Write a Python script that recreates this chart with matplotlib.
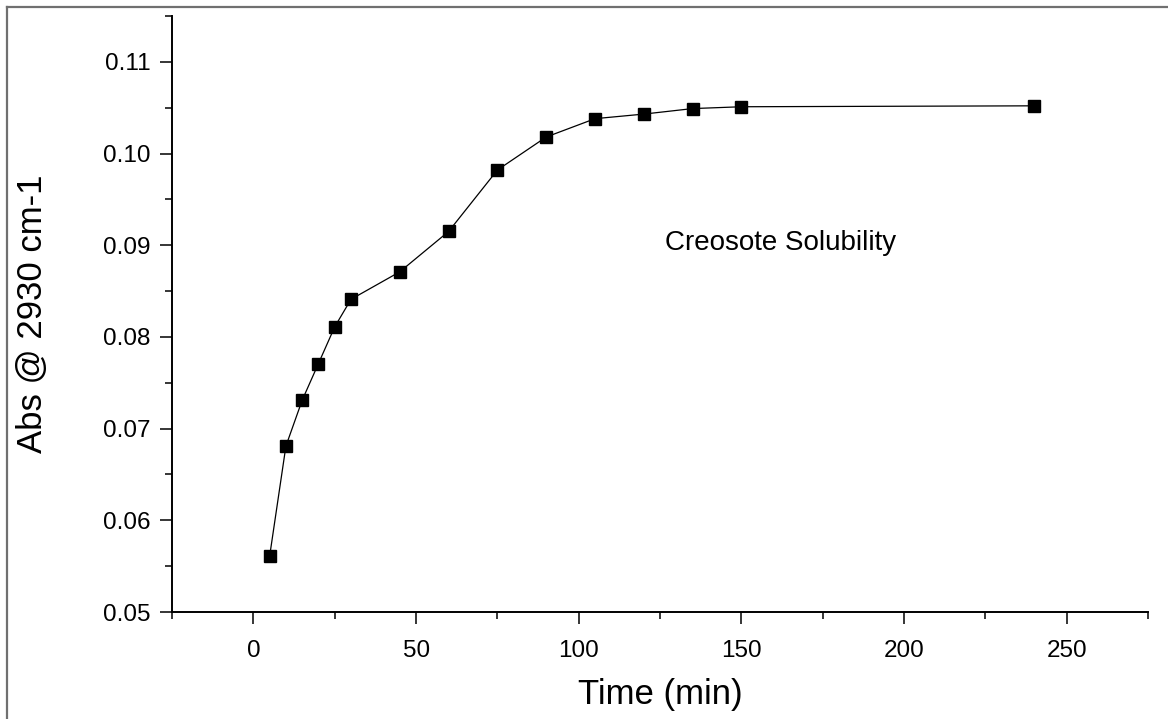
import matplotlib
matplotlib.use("Agg")
import matplotlib.pyplot as plt
from matplotlib.ticker import MultipleLocator, FormatStrFormatter
from matplotlib.lines import Line2D

plt.rcParams['font.family'] = ['Liberation Sans', 'DejaVu Sans']

# === DATOS ===
time_min = [5, 10, 15, 20, 25, 30, 45, 60, 75, 90, 105, 120, 135, 150, 240]
absorb = [0.0561, 0.0681, 0.0731, 0.0771, 0.0811, 0.0841, 0.0871, 0.0915,
          0.0982, 0.1018, 0.1038, 0.1043, 0.1049, 0.1051, 0.1052]
note_text = "Creosote Solubility"

fig = plt.figure(figsize=(11.68, 7.19), dpi=100, facecolor='white')
ax = fig.add_axes([0.1473, 0.1488, 0.8357, 0.8290])

ax.plot(time_min, absorb, color='black', linewidth=0.9, marker='s',
        markersize=9, markerfacecolor='black', markeredgecolor='black')

ax.set_xlim(-25, 275)
ax.set_ylim(0.05, 0.115)

ax.xaxis.set_major_locator(MultipleLocator(50))
ax.xaxis.set_minor_locator(MultipleLocator(25))
ax.yaxis.set_major_locator(MultipleLocator(0.01))
ax.yaxis.set_minor_locator(MultipleLocator(0.005))
ax.yaxis.set_major_formatter(FormatStrFormatter('%.2f'))

for s in ['top', 'right']:
    ax.spines[s].set_visible(False)
for s in ['left', 'bottom']:
    ax.spines[s].set_linewidth(1.4)

ax.tick_params(which='major', direction='out', length=8.6, width=1.1,
               labelsize=17.5)
ax.tick_params(axis='x', which='major', pad=11.5)
ax.tick_params(axis='y', which='major', pad=7)
ax.tick_params(which='minor', direction='out', length=5, width=1.1)

ax.set_xlabel("Time (min)", fontsize=25)
ax.set_ylabel("Abs @ 2930 cm-1", fontsize=25)
ax.xaxis.set_label_coords(0.5, -0.139)
ax.xaxis.label.set_va('center')
ax.yaxis.set_label_coords(-0.143, 0.5)
ax.yaxis.label.set_va('center')

ax.text(162, 0.0902, note_text, fontsize=20, ha='center', va='center')

# marco gris exterior
fig.add_artist(Line2D([7/1168, 1.0], [1 - 7/719, 1 - 7/719], color='#707070',
                      linewidth=1.6, transform=fig.transFigure))
fig.add_artist(Line2D([7/1168, 7/1168], [0.0, 1 - 7/719], color='#707070',
                      linewidth=1.6, transform=fig.transFigure))

fig.savefig("out.png", dpi=100, facecolor='white')
